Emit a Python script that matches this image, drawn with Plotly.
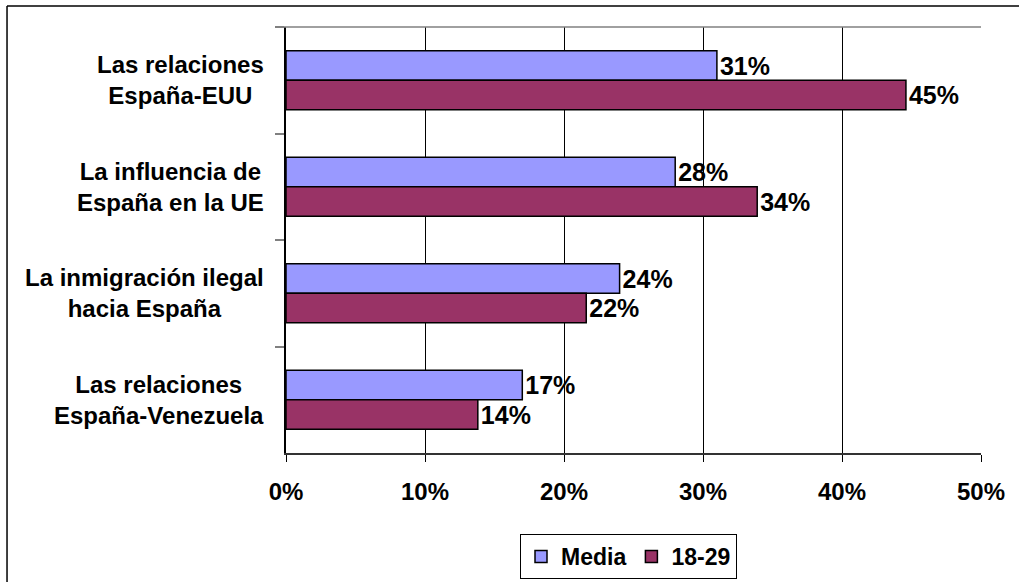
import plotly.graph_objects as go

categories = [
    "Las relaciones<br>España-EUU",
    "La influencia de<br>España en la UE",
    "La inmigración ilegal<br>hacia España",
    "Las relaciones<br>España-Venezuela",
]
cat_keys = ["EUU", "UE", "Inmigracion", "Venezuela"]
media = [31, 28, 24, 17]
jovenes = [44.6, 33.9, 21.6, 13.8]
series_names = ["Media", "18-29"]
x_ticks = [0, 10, 20, 30, 40, 50]
x_tick_labels = ["0%", "10%", "20%", "30%", "40%", "50%"]

FONT = "Liberation Sans, Arial, sans-serif"

fig = go.Figure()
fig.add_trace(go.Bar(
    y=cat_keys, x=media, name=series_names[0], orientation="h",
    marker=dict(color="#9999FF", line=dict(color="black", width=1.5)),
    texttemplate="%{x:.0f}%", textposition="outside",
    textfont=dict(family=FONT, size=25, color="black", weight="bold"),
    cliponaxis=False, constraintext="none",
))
fig.add_trace(go.Bar(
    y=cat_keys, x=jovenes, name=series_names[1], orientation="h",
    marker=dict(color="#993366", line=dict(color="black", width=1.5)),
    texttemplate="%{x:.0f}%", textposition="outside",
    textfont=dict(family=FONT, size=25, color="black", weight="bold"),
    cliponaxis=False, constraintext="none",
))

annotations = []
for key, label in zip(cat_keys, categories):
    annotations.append(dict(
        x=-0.029, xref="paper", y=key, yref="y",
        text=label, showarrow=False, xanchor="right", yanchor="middle",
        align="center",
        font=dict(family=FONT, size=24, color="black", weight="bold"),
    ))

shapes = [
    # outer chart border (top and left visible)
    dict(type="line", xref="paper", yref="paper", x0=-0.4014, x1=1.07, y0=1.0493, y1=1.0493,
         line=dict(color="#404040", width=2)),
    dict(type="line", xref="paper", yref="paper", x0=-0.4014, x1=-0.4014, y0=1.0493, y1=-0.36,
         line=dict(color="black", width=1.5)),
    # plot area top border
    dict(type="line", xref="paper", yref="paper", x0=-0.013, x1=1.0, y0=1, y1=1,
         line=dict(color="#808080", width=1.5)),
]

fig.update_layout(
    width=1019, height=582,
    margin=dict(l=286, r=38, t=27, b=129, autoexpand=False),
    paper_bgcolor="white", plot_bgcolor="white",
    font=dict(family=FONT, size=24, color="black", weight="bold"),
    barmode="group", bargap=0.446, bargroupgap=0,
    showlegend=True,
    legend=dict(
        orientation="h", x=0.3367, xanchor="left",
        y=-0.190, yanchor="top",
        bordercolor="black", borderwidth=1, bgcolor="white",
        font=dict(family=FONT, size=23, color="black", weight="bold"),
        traceorder="normal", itemwidth=30,
    ),
    annotations=annotations,
    shapes=shapes,
)
fig.update_xaxes(
    range=[0, 50], tickvals=x_ticks, ticktext=x_tick_labels,
    showgrid=True, gridcolor="black", gridwidth=1,
    showline=True, linecolor="#333333", linewidth=1.5,
    ticks="outside", ticklen=7, tickcolor="black", tickwidth=1,
    zeroline=False, ticklabelstandoff=9,
    tickfont=dict(family=FONT, size=24, color="black", weight="bold"),
)
fig.update_yaxes(
    type="category", categoryorder="array", categoryarray=cat_keys,
    autorange="reversed", showticklabels=False,
    tickson="boundaries", ticks="outside", ticklen=9, tickcolor="#808080", tickwidth=1.5,
    showline=True, linecolor="black", linewidth=1.5, showgrid=False, zeroline=False,
)

fig.write_html("out.html", config={"displayModeBar": False},
               post_script="document.body.style.margin='0';")
